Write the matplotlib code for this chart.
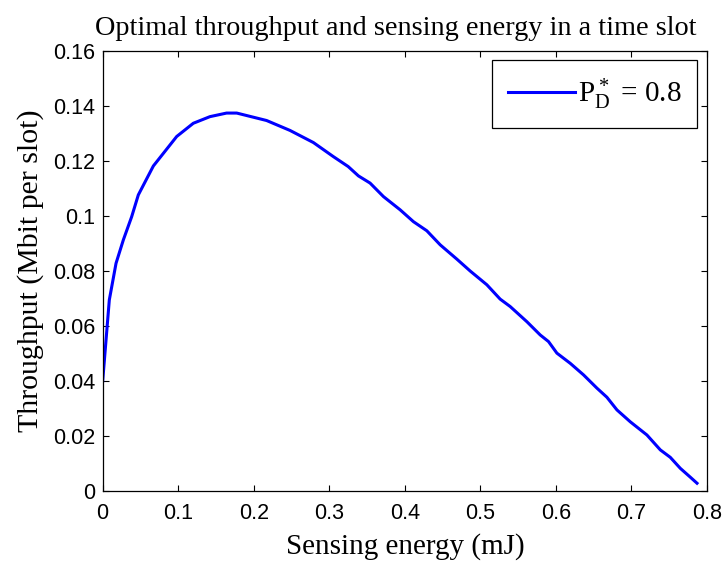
import numpy as np
import matplotlib
matplotlib.use("Agg")
import matplotlib.pyplot as plt

# values
energy = [0.0, 0.0088, 0.0177, 0.0274, 0.0384, 0.0472, 0.0671, 0.098, 0.12,
          0.142, 0.164, 0.1775, 0.217, 0.248, 0.279, 0.3054, 0.325, 0.3386,
          0.354, 0.3717, 0.3938, 0.4114, 0.4291, 0.4468, 0.4689, 0.4865,
          0.5086, 0.5262, 0.5395, 0.5616, 0.5792, 0.5902, 0.6013, 0.619,
          0.6366, 0.6543, 0.6675, 0.6808, 0.6984, 0.7205, 0.7382, 0.7514,
          0.7647, 0.7779, 0.7868]
throughput = [0.040, 0.0695, 0.0828, 0.0913, 0.0997, 0.1076, 0.1181, 0.1288,
              0.1336, 0.1360, 0.1373, 0.1373, 0.1346, 0.1310, 0.1266, 0.1215,
              0.1179, 0.1145, 0.1119, 0.1070, 0.1022, 0.0979, 0.0946, 0.0895,
              0.0843, 0.0800, 0.0750, 0.0698, 0.0671, 0.0616, 0.0568, 0.0544,
              0.0502, 0.0465, 0.0423, 0.0375, 0.0342, 0.0296, 0.0253, 0.0205,
              0.0151, 0.0124, 0.0084, 0.0052, 0.0030]

xticks = np.arange(0, 0.81, 0.1)
yticks = np.arange(0, 0.161, 0.02)
xlabels = ["0", "0.1", "0.2", "0.3", "0.4", "0.5", "0.6", "0.7", "0.8"]
ylabels = ["0", "0.02", "0.04", "0.06", "0.08", "0.1", "0.12", "0.14", "0.16"]

serif = "Liberation Serif"
plt.rcParams["mathtext.fontset"] = "custom"
plt.rcParams["mathtext.rm"] = serif

fig = plt.figure(figsize=(7.24, 5.63), dpi=100)
ax = fig.add_axes([0.1418, 0.127, 0.8347, 0.7833])

ax.plot(energy, throughput, color=(0, 0, 1), lw=2.2, label=r"$\mathregular{P_D^*}$ = 0.8")

ax.set_xlim(0, 0.8)
ax.set_ylim(0, 0.16)
ax.set_xticks(xticks)
ax.set_xticklabels(xlabels, fontfamily="Liberation Sans", fontsize=15.5)
ax.set_yticks(yticks)
ax.set_yticklabels(ylabels, fontfamily="Liberation Sans", fontsize=15.5)
ax.tick_params(direction="in", length=4, width=0.8, top=True, right=True)
ax.tick_params(axis="x", pad=8.5)
ax.tick_params(axis="y", pad=5.5)
for s in ax.spines.values():
    s.set_linewidth(0.9)

ax.set_title("Optimal throughput and sensing energy in a time slot",
             fontfamily=serif, fontsize=20.3, pad=11, x=0.485)
ax.set_xlabel("Sensing energy (mJ)", fontfamily=serif, fontsize=21, labelpad=6)
ax.set_ylabel("Throughput (Mbit per slot)", fontfamily=serif, fontsize=21.5, labelpad=6.5)

leg = ax.legend(loc="upper right", prop={"family": serif, "size": 21},
                fancybox=False, edgecolor="black", framealpha=1,
                handlelength=2.3, handletextpad=0.1, borderpad=0.55,
                borderaxespad=0.33)
leg.get_frame().set_linewidth(0.9)

fig.savefig("out.png", dpi=100)
